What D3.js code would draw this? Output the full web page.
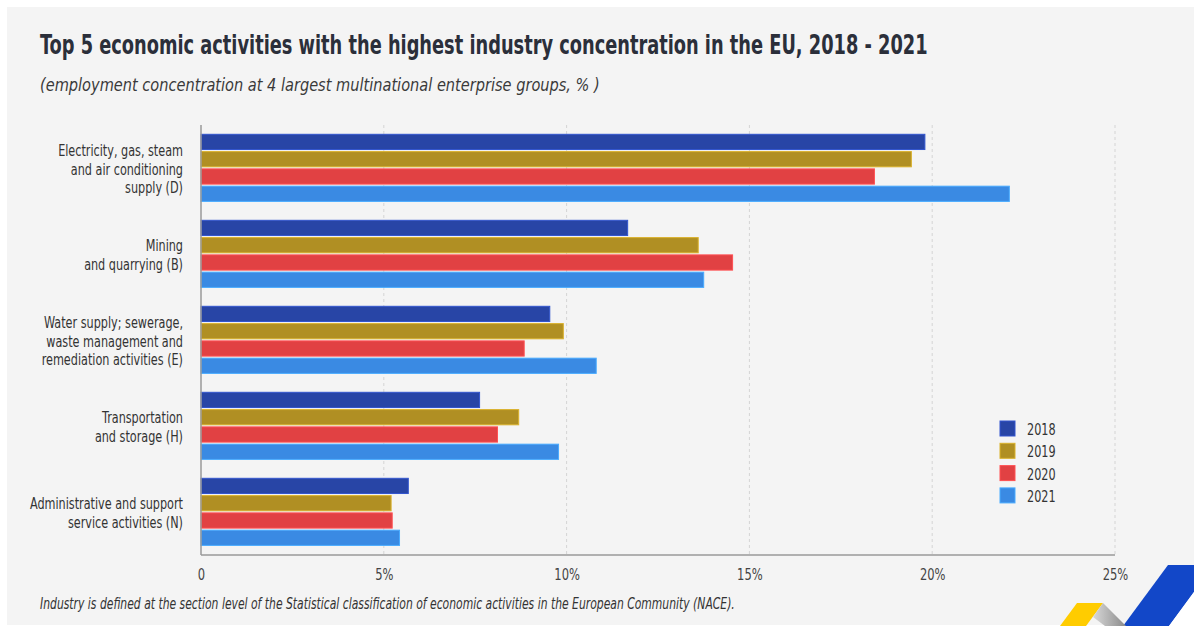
<!DOCTYPE html>
<html>
<head>
<meta charset="utf-8">
<script src="https://cdn.jsdelivr.net/npm/d3@7"></script>
<style>
  html, body { margin: 0; padding: 0; background: #ffffff; }
  svg { display: block; }
  text { font-family: "Liberation Sans Narrow", "DejaVu Sans Condensed", "Roboto", sans-serif; }
</style>
</head>
<body>
<svg id="chart" width="1194" height="626"></svg>
<script>
// ---------- data ----------
const categories = [
  ["Electricity, gas, steam", "and air conditioning", "supply (D)"],
  ["Mining", "and quarrying (B)"],
  ["Water supply; sewerage,", "waste management and", "remediation activities (E)"],
  ["Transportation", "and storage (H)"],
  ["Administrative and support", "service activities (N)"]
];
const years = ["2018", "2019", "2020", "2021"];
const values2018 = [19.8, 11.67, 9.54, 7.62, 5.67];
const values2019 = [19.43, 13.6, 9.91, 8.69, 5.2];
const values2020 = [18.42, 14.54, 8.84, 8.11, 5.23];
const values2021 = [22.11, 13.75, 10.81, 9.78, 5.43];
const tickValues = [0, 5, 10, 15, 20, 25];
const tickLabels = ["0", "5%", "10%", "15%", "20%", "25%"];
const colors = ["#2845a6", "#b08f23", "#e14143", "#3a8ae3"];

const title = "Top 5 economic activities with the highest industry concentration in the EU, 2018 - 2021";
const subtitle = "(employment concentration at 4 largest multinational enterprise groups, % )";
const footnote = "Industry is defined at the section level of the Statistical classification of economic activities in the European Community (NACE).";

// ---------- layout ----------
const svg = d3.select("#chart");
const W = 1194, H = 626;
const plot = { left: 201, right: 1115, top: 125, bottom: 555 };

svg.append("rect").attr("x", 7).attr("y", 7).attr("width", W - 7).attr("height", 618).attr("fill", "#f4f4f4");

function condense(sel, k) {
  sel.each(function () {
    const w = this.getComputedTextLength();
    d3.select(this).attr("textLength", w * k).attr("lengthAdjust", "spacingAndGlyphs");
  });
}
// horizontally squeeze a text to a target width with a transform
function fitWidth(sel, x0, y0, target) {
  sel.attr("x", 0).attr("y", 0);
  const w = sel.node().getComputedTextLength();
  sel.attr("transform", `translate(${x0},${y0}) scale(${target / w},1)`);
}

const tt = svg.append("text")
  .attr("font-size", 27).attr("font-weight", "bold").attr("fill", "#2b2f3a")
  .text(title);
fitWidth(tt, 40, 54, 888);

const st = svg.append("text")
  .attr("font-size", 17).attr("font-style", "italic").attr("fill", "#3a3a3a")
  .text(subtitle);
fitWidth(st, 40, 91, 560);

const ft = svg.append("text")
  .attr("font-size", 15.5).attr("font-style", "italic").attr("fill", "#333")
  .text(footnote);
fitWidth(ft, 40, 609, 695);

// scales
const x = d3.scaleLinear().domain([0, 25]).range([plot.left, plot.right]);
const y = d3.scaleBand().domain(d3.range(categories.length)).range([plot.top, plot.bottom]);
const yInner = d3.scaleBand().domain(years).range([9.3, 76.4]).paddingInner(0.12);

// grid
svg.append("g").selectAll("line").data(tickValues.slice(1)).join("line")
  .attr("x1", d => x(d)).attr("x2", d => x(d))
  .attr("y1", plot.top).attr("y2", plot.bottom)
  .attr("stroke", "#d4d4d4").attr("stroke-width", 1).attr("stroke-dasharray", "3,3");

// bars
const series = [values2018, values2019, values2020, values2021];
const groups = svg.append("g").selectAll("g").data(categories).join("g")
  .attr("transform", (d, i) => `translate(0,${y(i)})`);
groups.each(function (d, i) {
  d3.select(this).selectAll("rect").data(years).join("rect")
    .attr("x", x(0))
    .attr("y", yr => yInner(yr))
    .attr("height", yInner.bandwidth())
    .attr("width", (yr, j) => x(series[j][i]) - x(0))
    .attr("fill", (yr, j) => colors[j])
    .attr("stroke", (yr, j) => d3.color(colors[j]).brighter(0.6))
    .attr("stroke-width", 1);
});

// axes lines
svg.append("line").attr("x1", plot.left).attr("x2", plot.right).attr("y1", plot.bottom).attr("y2", plot.bottom)
  .attr("stroke", "#9a9a9a").attr("stroke-width", 1.5);
svg.append("line").attr("x1", plot.left).attr("x2", plot.left).attr("y1", plot.top).attr("y2", plot.bottom)
  .attr("stroke", "#9a9a9a").attr("stroke-width", 1.5);

// x tick labels
const xAxis = d3.axisBottom(x).tickValues(tickValues).tickFormat((d, i) => tickLabels[i]).tickSize(0).tickPadding(0);
const gx = svg.append("g").attr("transform", `translate(0,${plot.bottom})`).call(xAxis);
gx.select(".domain").remove();
gx.selectAll("text").attr("dy", null).attr("y", 25).attr("font-size", 16).attr("fill", "#444")
  .attr("font-family", null);
condense(gx.selectAll("text"), 0.8);

// category labels
const lh = 18.3;
groups.each(function (lines, i) {
  const c = y.bandwidth() / 2;
  const n = lines.length;
  const t = d3.select(this).selectAll("text").data(lines).join("text")
    .attr("x", 183).attr("text-anchor", "end")
    .attr("y", (l, k) => c + (k - (n - 1) / 2) * lh + 6.5)
    .attr("font-size", 16).attr("fill", "#333")
    .text(l => l);
  condense(t, 0.78);
});

// legend
const legend = svg.append("g").attr("transform", "translate(1000,421)");
const li = legend.selectAll("g").data(years).join("g").attr("transform", (d, i) => `translate(0,${i * 22.3})`);
li.append("rect").attr("width", 15).attr("height", 15).attr("fill", (d, i) => colors[i])
  .attr("stroke", (d, i) => d3.color(colors[i]).brighter(0.6));
const lt = li.append("text").attr("x", 27).attr("y", 14).attr("font-size", 16).attr("fill", "#333").text(d => d);
condense(lt, 0.78);

// decorative logo bottom right
const logo = svg.append("g");
logo.append("path").attr("d", "M1123,626 L1168,565 L1214,565 L1169,626 Z").attr("fill", "#1247c8");
logo.append("path").attr("d", "M1169,626 L1214,565 L1194,565 L1194,626 Z").attr("fill", "#ffffff");
logo.append("path").attr("d", "M1060,626 L1077,603 L1103,603 L1086,626 Z").attr("fill", "#ffcc00");
const grad = svg.append("defs").append("linearGradient").attr("id", "g1").attr("x1", 0).attr("x2", 1);
grad.append("stop").attr("offset", 0).attr("stop-color", "#d8d8d8");
grad.append("stop").attr("offset", 1).attr("stop-color", "#8a8a8a");
logo.append("path").attr("d", "M1093,617 L1103,603 L1126,626 L1105,626 Z").attr("fill", "url(#g1)");
</script>
</body>
</html>
